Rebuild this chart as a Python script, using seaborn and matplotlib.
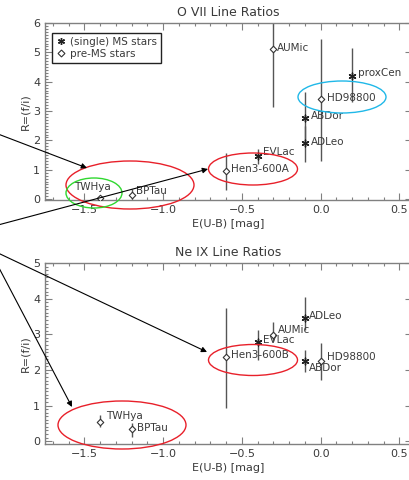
import matplotlib
matplotlib.use("Agg")
import matplotlib.pyplot as plt
import seaborn as sns
import pandas as pd
from matplotlib.lines import Line2D
from matplotlib.patches import Ellipse, FancyArrowPatch
from matplotlib.ticker import MultipleLocator

# ---------------- data ----------------
o7_names = ['AUMic', 'HD98800', 'proxCen', 'ABDor', 'ADLeo', 'EVLac', 'Hen3-600A', 'TWHya', 'BPTau']
o7_eub = [-0.3, 0.0, 0.2, -0.1, -0.1, -0.4, -0.6, -1.4, -1.2]
o7_r = [5.1, 3.4, 4.2, 2.75, 1.9, 1.47, 0.97, 0.04, 0.15]
o7_lo = [3.15, 1.3, 3.3, 2.0, 1.26, 1.18, 0.3, 0.0, 0.0]
o7_hi = [6.5, 5.45, 5.15, 3.65, 2.5, 1.7, 1.57, 0.12, 0.35]
o7_type = ['pre-MS', 'pre-MS', 'MS', 'MS', 'MS', 'MS', 'pre-MS', 'pre-MS', 'pre-MS']

ne9_names = ['ADLeo', 'AUMic', 'EVLac', 'Hen3-600B', 'ABDor', 'HD98800', 'TWHya', 'BPTau']
ne9_eub = [-0.1, -0.3, -0.4, -0.6, -0.1, 0.0, -1.4, -1.2]
ne9_r = [3.45, 2.97, 2.78, 2.37, 2.25, 2.25, 0.55, 0.35]
ne9_lo = [3.12, 2.8, 2.28, 0.93, 1.95, 1.72, 0.4, 0.12]
ne9_hi = [4.05, 3.35, 3.12, 3.75, 2.56, 2.75, 0.72, 0.5]
ne9_type = ['MS', 'pre-MS', 'MS', 'pre-MS', 'MS', 'pre-MS', 'pre-MS', 'pre-MS']

titles = ['O VII Line Ratios', 'Ne IX Line Ratios']
xlabel = 'E(U-B) [mag]'
ylabel = 'R=(f/i)'
legend_labels = ['(single) MS stars', 'pre-MS stars']

# label offsets in pixels (dx, dy downwards)
o7_off = {'AUMic': (4, -1), 'HD98800': (6, -1), 'proxCen': (6, -3), 'ABDor': (6, -2),
          'ADLeo': (6, -1), 'EVLac': (5, -4), 'Hen3-600A': (5, -2), 'TWHya': (-26, -11),
          'BPTau': (4, -4)}
ne9_off = {'ADLeo': (4, -2), 'AUMic': (5, -5), 'EVLac': (5, -2), 'Hen3-600B': (5, -2),
           'HD98800': (6, -4), 'ABDor': (4, 7), 'TWHya': (6, -6), 'BPTau': (5, -1)}

# ---------------- style ----------------
sns.set_style('ticks')
plt.rcParams['font.family'] = ['DejaVu Sans']
TXT = '#3a3a3a'
AXC = '#808080'

W, H = 409, 480
fig = plt.figure(figsize=(W / 100, H / 100), dpi=100)

def px_axes(l, t, r, b):
    return [l / W, 1 - b / H, (r - l) / W, (b - t) / H]

ax1 = fig.add_axes(px_axes(45, 23, 412, 200))
ax2 = fig.add_axes(px_axes(45, 263, 412, 444))

ms_marker = (6, 2, 0)

def panel(ax, names, eub, r, lo, hi, types, offs, title, ylim):
    df = pd.DataFrame({'name': names, 'eub': eub, 'r': r, 'lo': lo, 'hi': hi, 'type': types})
    for _, row in df.iterrows():
        ax.plot([row.eub, row.eub], [row.lo, row.hi], color='#555555', lw=1.0, zorder=2,
                solid_capstyle='butt')
    ms = df[df['type'] == 'MS']
    pre = df[df['type'] == 'pre-MS']
    sns.scatterplot(data=ms, x='eub', y='r', marker=ms_marker, s=24, color='#222222',
                    linewidth=1.0, ax=ax, zorder=3, legend=False)
    sns.scatterplot(data=pre, x='eub', y='r', marker='D', s=11, facecolor='white',
                    edgecolor='#333333', linewidth=0.8, ax=ax, zorder=3, legend=False)
    for _, row in df.iterrows():
        dx, dy = offs[row['name']]
        ax.annotate(row['name'], (row.eub, row.r), xytext=(dx, -dy),
                    textcoords='offset pixels', ha='left', va='center',
                    fontsize=7.5, color=TXT, zorder=4)
    ax.set_xlim(-1.75, 0.58)
    ax.set_ylim(*ylim)
    ax.xaxis.set_major_locator(MultipleLocator(0.5))
    ax.xaxis.set_minor_locator(MultipleLocator(0.1))
    ax.yaxis.set_major_locator(MultipleLocator(1))
    ax.yaxis.set_minor_locator(MultipleLocator(0.1))
    ax.tick_params(which='both', direction='in', top=True, right=True, colors=AXC,
                   labelcolor=TXT, labelsize=8, width=0.8)
    ax.tick_params(which='major', length=5)
    ax.tick_params(which='minor', length=2.5)
    for sp in ax.spines.values():
        sp.set_color(AXC)
        sp.set_linewidth(1.0)
    ax.set_xlabel(xlabel, fontsize=8, color=TXT, labelpad=3)
    ax.set_ylabel(ylabel, fontsize=8, color=TXT, labelpad=2)
    ax.set_title(title, fontsize=9, color=TXT, pad=5)

panel(ax1, o7_names, o7_eub, o7_r, o7_lo, o7_hi, o7_type, o7_off, titles[0], (-0.03, 6.0))
panel(ax2, ne9_names, ne9_eub, ne9_r, ne9_lo, ne9_hi, ne9_type, ne9_off, titles[1], (-0.08, 5.0))

handles = [Line2D([], [], ls='none', marker=ms_marker, ms=5, color='#222222', mew=1.0),
           Line2D([], [], ls='none', marker='D', ms=3.5, mfc='white', mec='#333333', mew=0.8)]
leg = ax1.legend(handles, legend_labels, loc='upper left', bbox_to_anchor=(0.02, 0.944),
                 borderaxespad=0, fancybox=False, framealpha=1, edgecolor='#222222',
                 fontsize=7.5, handlelength=0.8, handletextpad=0.5, borderpad=0.4,
                 labelspacing=0.15)
for t in leg.get_texts():
    t.set_color(TXT)
leg.get_frame().set_linewidth(1.0)

# ---------------- overlay annotations (figure pixel coords) ----------------
def fp(x, y):
    return (x / W, 1 - y / H)

ellipses = [((130, 185), 128, 48, '#e8202a'),
            ((94, 193), 56, 30, '#30d830'),
            ((253, 169), 89, 32, '#e8202a'),
            ((342, 97), 88, 32, '#20b8e8'),
            ((253, 360), 89, 31, '#e8202a'),
            ((122, 425), 128, 48, '#e8202a')]
for (cx, cy), w, h, c in ellipses:
    fig.add_artist(Ellipse(fp(cx, cy), w / W, h / H, transform=fig.transFigure,
                           fill=False, edgecolor=c, lw=1.0, zorder=10))

arrows = [((-2, 134), (87, 168)),
          ((-2, 225), (208, 169)),
          ((-2, 253), (207, 352)),
          ((-2, 266), (72, 407))]
for a, b in arrows:
    fig.add_artist(FancyArrowPatch(fp(*a), fp(*b), transform=fig.transFigure,
                                   arrowstyle='-|>', mutation_scale=8, lw=0.8,
                                   color='black', shrinkA=0, shrinkB=0, zorder=11))

fig.savefig('out.png', dpi=100)
